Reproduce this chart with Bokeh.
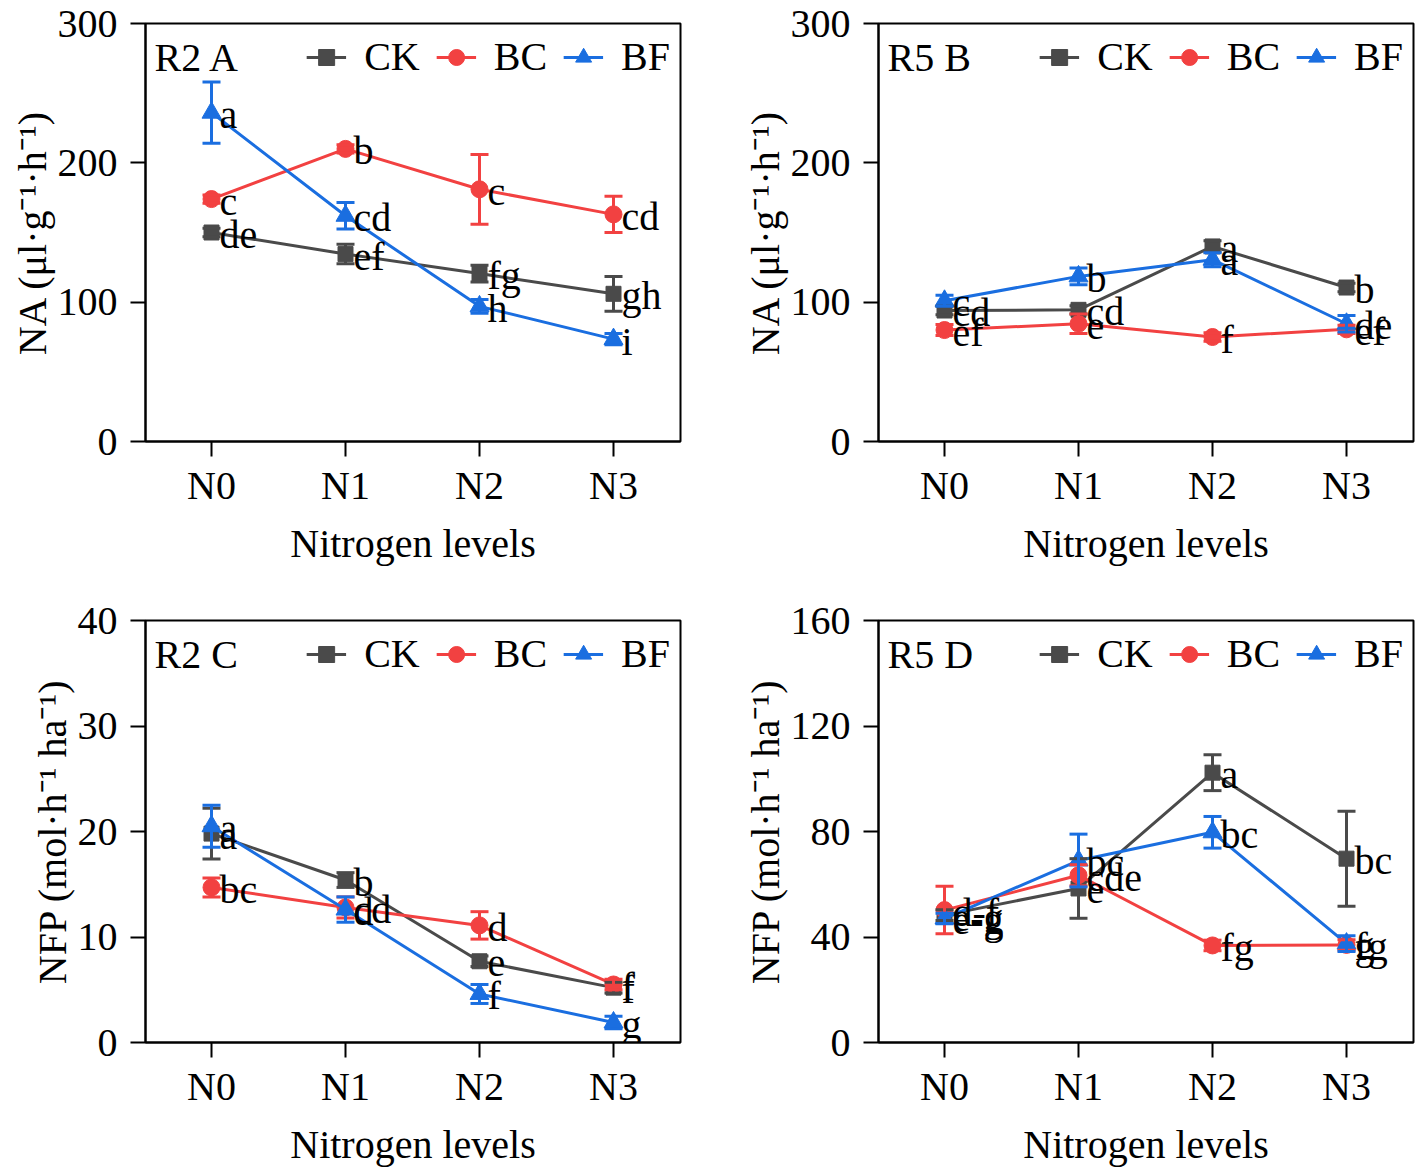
from bokeh.plotting import figure
from bokeh.models import (FixedTicker, Whisker, TeeHead, ColumnDataSource, Legend,
                          LegendItem, Label, Range1d)
from bokeh.layouts import gridplot
from bokeh.embed import file_html
from bokeh.resources import INLINE
from bokeh.core.properties import value

FONT = "Liberation Serif"
FS = "40px"

levels = ["N0", "N1", "N2", "N3"]
series = ["CK", "BC", "BF"]
colors = {"CK": "#4a4a4a", "BC": "#f24141", "BF": "#1a6ee0"}
markers = {"CK": "square", "BC": "circle", "BF": "triangle"}
msize = {"CK": 15, "BC": 17, "BF": 19}

# ---- Panel A: R2 NA ----
a_ck = [150, 134.5, 120.5, 106]
a_ck_err = [3, 7, 6, 12.5]
a_bc = [174, 210, 181, 163]
a_bc_err = [3, 3, 25, 13]
a_bf = [236, 162, 97, 73.5]
a_bf_err = [22, 9.5, 5, 4]
a_ck_lab = ["de", "ef", "fg", "gh"]
a_bc_lab = ["c", "b", "c", "cd"]
a_bf_lab = ["a", "cd", "h", "i"]

# ---- Panel B: R5 NA ----
b_ck = [94, 94.5, 140, 110.5]
b_ck_err = [3, 3, 4, 3]
b_bc = [80, 84.5, 75, 80.5]
b_bc_err = [4, 7, 3, 3]
b_bf = [101, 118.5, 130.5, 84.5]
b_bf_err = [4, 6, 5, 6]
b_ck_lab = ["cd", "cd", "a", "b"]
b_bc_lab = ["ef", "e", "f", "ef"]
b_bf_lab = ["c", "b", "a", "de"]

# ---- Panel C: R2 NFP ----
c_ck = [19.8, 15.4, 7.7, 5.2]
c_ck_err = [2.4, 0.7, 0.5, 0.5]
c_bc = [14.7, 12.8, 11.1, 5.5]
c_bc_err = [0.9, 1.0, 1.3, 0.5]
c_bf = [20.5, 12.6, 4.6, 1.9]
c_bf_err = [2.0, 1.2, 0.9, 0.6]
c_ck_lab = ["a", "b", "e", "f"]
c_bc_lab = ["bc", "cd", "d", "f"]
c_bf_lab = ["a", "d", "f", "g"]

# ---- Panel D: R5 NFP ----
d_ck = [48.3, 58.4, 102.3, 69.7]
d_ck_err = [2, 11.3, 6.8, 18]
d_bc = [50.2, 63.4, 36.8, 37]
d_bc_err = [9, 4, 2, 2]
d_bf = [47, 69, 79.7, 37.5]
d_bf_err = [2, 10, 6, 3]
d_ck_lab = ["e-g", "e", "a", "bc"]
d_bc_lab = ["d-f", "cde", "fg", "fg"]
d_bf_lab = ["e-g", "bc", "bc", "g"]

NA_LABEL = "NA (\u03bcl\u00b7g\u207b\u00b9\u00b7h\u207b\u00b9)"
NFP_LABEL = "NFP (mol\u00b7h\u207b\u00b9 ha\u207b\u00b9)"

panels = [
    dict(tag="R2 A", ylabel=NA_LABEL, ymax=300, yticks=[0, 100, 200, 300],
         data={"CK": (a_ck, a_ck_err, a_ck_lab), "BC": (a_bc, a_bc_err, a_bc_lab), "BF": (a_bf, a_bf_err, a_bf_lab)},
         w=708, h=584, bl=145, br=28, bt=23, fh=424),
    dict(tag="R5 B", ylabel=NA_LABEL, ymax=300, yticks=[0, 100, 200, 300],
         data={"CK": (b_ck, b_ck_err, b_ck_lab), "BC": (b_bc, b_bc_err, b_bc_lab), "BF": (b_bf, b_bf_err, b_bf_lab)},
         w=708, h=584, bl=170, br=3, bt=20, fh=421),
    dict(tag="R2 C", ylabel=NFP_LABEL, ymax=40, yticks=[0, 10, 20, 30, 40],
         data={"CK": (c_ck, c_ck_err, c_ck_lab), "BC": (c_bc, c_bc_err, c_bc_lab), "BF": (c_bf, c_bf_err, c_bf_lab)},
         w=708, h=585, bl=145, br=28, bt=36, fh=425),
    dict(tag="R5 D", ylabel=NFP_LABEL, ymax=160, yticks=[0, 40, 80, 120, 160],
         data={"CK": (d_ck, d_ck_err, d_ck_lab), "BC": (d_bc, d_bc_err, d_bc_lab), "BF": (d_bf, d_bf_err, d_bf_lab)},
         w=708, h=585, bl=170, br=3, bt=36, fh=425),
]


def make_panel(cfg):
    fw = cfg["w"] - cfg["bl"] - cfg["br"]
    x0 = -66.0 / 134.0
    x1 = x0 + fw / 134.0
    p = figure(width=cfg["w"], height=cfg["h"], output_backend="svg", toolbar_location=None,
               x_range=Range1d(x0, x1), y_range=Range1d(0, cfg["ymax"]),
               min_border_left=cfg["bl"], min_border_right=cfg["br"], min_border_top=cfg["bt"],
               min_border_bottom=cfg["h"] - cfg["bt"] - cfg["fh"])
    p.xgrid.visible = False
    p.ygrid.visible = False
    p.outline_line_color = "black"
    p.outline_line_width = 2
    p.background_fill_color = "white"
    p.border_fill_color = "white"

    for ax in (p.xaxis[0], p.yaxis[0]):
        ax.axis_line_width = 2
        ax.axis_line_color = "black"
        ax.major_tick_line_width = 2
        ax.major_tick_in = 0
        ax.major_tick_out = 15
        ax.minor_tick_line_color = None
        ax.major_label_text_font = FONT
        ax.major_label_text_font_size = FS
        ax.major_label_text_color = "black"
        ax.axis_label_text_font = FONT
        ax.axis_label_text_font_size = FS
        ax.axis_label_text_font_style = "normal"
        ax.axis_label_text_color = "black"

    p.xaxis.ticker = FixedTicker(ticks=[0, 1, 2, 3])
    p.xaxis.major_label_overrides = {i: lab for i, lab in enumerate(levels)}
    p.xaxis.major_label_standoff = 6
    p.xaxis.axis_label = "Nitrogen levels"
    p.xaxis.axis_label_standoff = 10

    p.yaxis.ticker = FixedTicker(ticks=cfg["yticks"])
    p.yaxis.major_label_standoff = 13
    p.yaxis.axis_label = cfg["ylabel"]
    p.yaxis.axis_label_standoff = 0

    xs = list(range(len(levels)))
    items = []
    for s in series:
        vals, errs, labs = cfg["data"][s]
        c = colors[s]
        src = ColumnDataSource(dict(
            x=xs, y=vals,
            upper=[v + e for v, e in zip(vals, errs)],
            lower=[v - e for v, e in zip(vals, errs)],
            lab=labs))
        ln = p.line("x", "y", source=src, line_color=c, line_width=3)
        wh = Whisker(base="x", upper="upper", lower="lower", source=src,
                     line_color=c, line_width=3, level="glyph",
                     upper_head=TeeHead(size=18, line_color=c, line_width=3),
                     lower_head=TeeHead(size=18, line_color=c, line_width=3))
        p.add_layout(wh)
        sc = p.scatter("x", "y", source=src, marker=markers[s], size=msize[s],
                       fill_color=c, line_color=c)
        items.append(LegendItem(label=s, renderers=[ln, sc]))

    for s in series:
        vals, errs, labs = cfg["data"][s]
        src = ColumnDataSource(dict(x=xs, y=vals, lab=labs))
        p.text("x", "y", text="lab", source=src, x_offset=8, y_offset=2,
               text_font=value(FONT), text_font_size=FS, text_baseline="alphabetic",
               text_align="left", text_color="black")

    legend = Legend(items=items, orientation="horizontal", location="top_right",
                    margin=10, padding=0, spacing=16, glyph_width=40, glyph_height=44,
                    label_standoff=18, border_line_alpha=0, background_fill_alpha=0,
                    label_text_font=FONT, label_text_font_size=FS, label_text_color="black")
    p.add_layout(legend)

    p.add_layout(Label(x=-0.425, y=cfg["ymax"] * (1 - 34 / cfg["fh"]), text=cfg["tag"],
                       text_font=FONT, text_font_size=FS, text_baseline="alphabetic",
                       text_color="black"))
    return p


figs = [make_panel(c) for c in panels]
grid = gridplot([[figs[0], figs[1]], [figs[2], figs[3]]], toolbar_location=None)

open("out.html", "w").write(file_html(grid, INLINE))
